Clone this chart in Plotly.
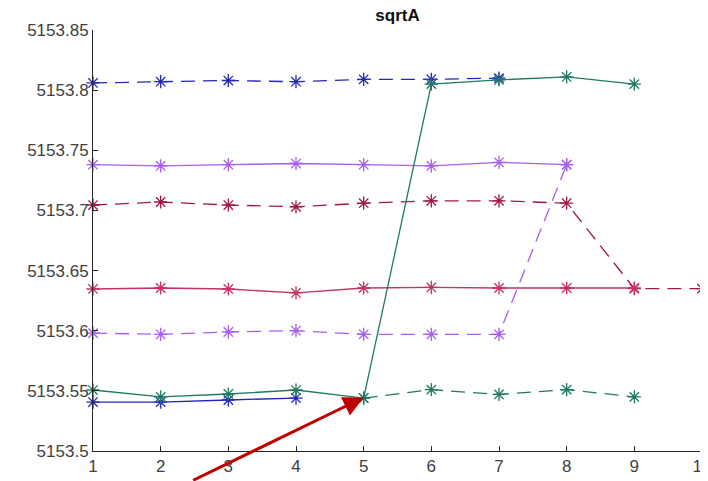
import plotly.graph_objects as go

# Data
blue_dash_x = [1, 2, 3, 4, 5, 6, 7]
blue_dash_y = [5153.806, 5153.807, 5153.808, 5153.807, 5153.809, 5153.809, 5153.810]
blue_solid_x = [1, 2, 3, 4]
blue_solid_y = [5153.5407, 5153.5407, 5153.5424, 5153.5440]

purple_solid_x = [1, 2, 3, 4, 5, 6, 7, 8]
purple_solid_y = [5153.738, 5153.737, 5153.738, 5153.739, 5153.738, 5153.737, 5153.740, 5153.738]
purple_dash_x = [1, 2, 3, 4, 5, 6, 7, 8]
purple_dash_y = [5153.598, 5153.597, 5153.599, 5153.600, 5153.597, 5153.597, 5153.597, 5153.738]

crimson_dash_x = [1, 2, 3, 4, 5, 6, 7, 8, 9, 10]
crimson_dash_y = [5153.7045, 5153.707, 5153.7045, 5153.703, 5153.706, 5153.708, 5153.708, 5153.706, 5153.635, 5153.635]
crimson_solid_x = [1, 2, 3, 4, 5, 6, 7, 8, 9]
crimson_solid_y = [5153.6347, 5153.6355, 5153.6347, 5153.6314, 5153.6355, 5153.636, 5153.6355, 5153.6355, 5153.6355]

teal_solid_x = [1, 2, 3, 4, 5, 6, 7, 8, 9]
teal_solid_y = [5153.5507, 5153.545, 5153.5474, 5153.5507, 5153.544, 5153.805, 5153.8085, 5153.811, 5153.805]
teal_dash_x = [5, 6, 7, 8, 9]
teal_dash_y = [5153.544, 5153.551, 5153.547, 5153.551, 5153.545]

x_ticks = [1, 2, 3, 4, 5, 6, 7, 8, 9, 10]
y_ticks = [5153.5, 5153.55, 5153.6, 5153.65, 5153.7, 5153.75, 5153.8, 5153.85]
y_tick_labels = ["5153.5", "5153.55", "5153.6", "5153.65", "5153.7", "5153.75", "5153.8", "5153.85"]

BLUE = "#2626b8"
PURPLE = "#a85cf0"
CRIMSON = "#a31848"
CRIMSON_L = "#c8305e"
TEAL = "#1f7a62"

series = [
    (blue_dash_x, blue_dash_y, BLUE, "dash"),
    (blue_solid_x, blue_solid_y, BLUE, "solid"),
    (purple_solid_x, purple_solid_y, PURPLE, "solid"),
    (purple_dash_x, purple_dash_y, PURPLE, "dash"),
    (crimson_dash_x, crimson_dash_y, CRIMSON, "dash"),
    (crimson_solid_x, crimson_solid_y, CRIMSON_L, "solid"),
    (teal_dash_x, teal_dash_y, TEAL, "dash"),
    (teal_solid_x, teal_solid_y, TEAL, "solid"),
]

fig = go.Figure()
for xs, ys, col, dash in series:
    fig.add_trace(go.Scatter(
        x=xs, y=ys, mode="lines+markers",
        line=dict(color=col, width=1.3, dash="14px,8px" if dash == "dash" else "solid"),
        marker=dict(symbol="asterisk-open", size=11, line=dict(color=col, width=1.3), color=col),
        showlegend=False, cliponaxis=False,
    ))

fig.add_annotation(
    x=5, y=5153.5445, xref="x", yref="y",
    ax=-172, ay=97, axref="pixel", ayref="pixel",
    text="", showarrow=True, arrowhead=2, arrowsize=1.35, arrowwidth=3,
    arrowcolor="#c00000", standoff=0,
)

# The page body has an 8px margin, so the figure is placed at (8, 8)
fig.update_layout(
    width=700, height=473,
    margin=dict(l=85, r=6, t=22, b=30),
    paper_bgcolor="white", plot_bgcolor="white",
    title=dict(text="<b>sqrtA</b>", x=(85 + 694) / 2 / 700, xanchor="center", y=1 - 1 / 473, yanchor="top",
               automargin=False,
               font=dict(family="Liberation Sans, Arial", size=17, color="#111111")),
    font=dict(family="Liberation Sans, Arial", size=17, color="#404040"),
)
fig.update_xaxes(range=[1, 10], tickvals=x_ticks, ticks="inside", ticklen=5, tickcolor="#262626",
                 showline=True, linecolor="#262626", linewidth=1, showgrid=False, zeroline=False,
                 ticklabeloverflow="allow", automargin=False,
                 tickfont=dict(size=17, color="#404040"))
fig.update_yaxes(range=[5153.5, 5153.85], tickvals=y_ticks, ticktext=y_tick_labels, ticks="inside", ticklen=5,
                 tickcolor="#262626", showline=True, linecolor="#262626", linewidth=1, showgrid=False,
                 zeroline=False, automargin=False, tickfont=dict(size=17, color="#404040"))

fig.write_html("out.html")
